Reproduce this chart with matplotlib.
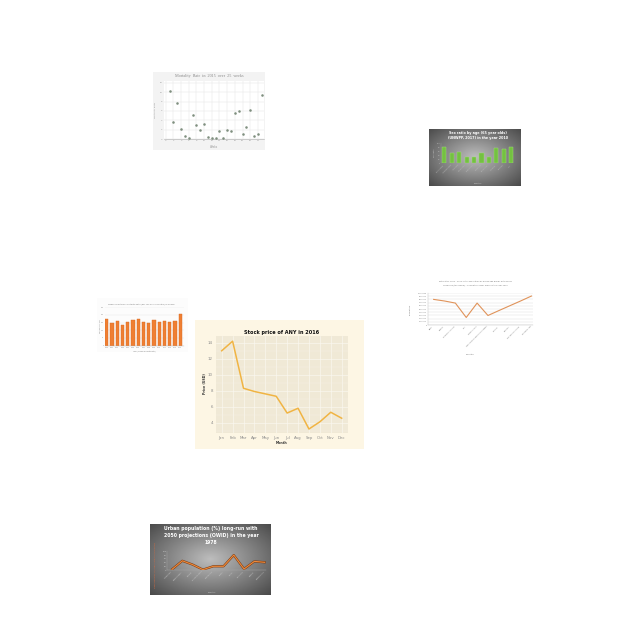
# Collage of six small charts on a white page

import numpy as np
import matplotlib.pyplot as plt

W = 640.0

# ---- data ----
weeks = list(range(1, 26))
mortality = [10.2, 3.55, 7.6, 2.1, 0.57, 0.2, 5.2, 3.1, 1.85, 3.3, 0.35, 0.3, 0.3,
             1.7, 0.2, 1.9, 1.7, 5.5, 6.0, 1.0, 2.6, 6.2, 0.7, 1.0, 9.5]

months = ["Jan", "Feb", "Mar", "Apr", "May", "Jun", "Jul", "Aug", "Sep", "Oct", "Nov", "Dec"]
price = [13.0, 14.2, 8.3, 7.9, 7.6, 7.3, 5.2, 5.8, 3.2, 4.1, 5.3, 4.55]

sex_countries = ["Kazakhstan", "Turkmenistan", "Tajikistan", "Uzbekistan", "Kyrgyzstan",
                 "Mongolia", "Azerbaijan", "Armenia", "Georgia", "Iran"]
sex_ratio = [82, 53, 57, 30, 33, 53, 33, 78, 73, 83]

pop_countries = ["Brazil", "Nigeria", "Northern America", "Iran", "Western Asia",
                 "Latin America and the Caribbean", "Ethiopia", "Pakistan",
                 "Sub-Saharan Africa", "Southern Asia"]
pop_under5 = [8.0e6, 7.5e6, 6.85e6, 2.35e6, 6.85e6, 2.97e6, 4.5e6, 6.0e6, 7.5e6, 9.05e6]

mmr_years = [str(y) for y in range(2000, 2015)]
mmr = [172, 150, 161, 136, 156, 170, 172, 156, 145, 165, 152, 161, 156, 163, 205]

urban_countries = ["Argentina", "Bangladesh", "Bolivia", "Burkina Faso", "Cambodia",
                   "Chad", "Chile", "Ethiopia", "Ghana", "Guatemala"]
urban_pct = [5, 50, 30, 3.5, 21, 21, 80, 7, 47, 42]


def box(x0, y0, x1, y1):
    # pixel box (top-left origin) -> figure fraction rect
    return [x0 / W, 1 - y1 / W, (x1 - x0) / W, (y1 - y0) / W]


def card(fig, x0, y0, x1, y1, color=None, dark=False):
    ax = fig.add_axes(box(x0, y0, x1, y1))
    ax.set_axis_off()
    if dark:
        yy, xx = np.mgrid[-1:1:200j, -1:1:300j]
        r = np.sqrt(xx ** 2 + yy ** 2)
        ax.imshow(-r, cmap="gray", vmin=-2.3, vmax=0.8, aspect="auto",
                  interpolation="bilinear", extent=[0, 1, 0, 1])
    else:
        ax.add_patch(plt.Rectangle((0, 0), 1, 1, color=color))
    ax.set_xlim(0, 1)
    ax.set_ylim(0, 1)
    return ax


def ftext(x, y, s, **kw):
    fig.text(x / W, 1 - y / W, s, ha="center", va="center", **kw)


fig = plt.figure(figsize=(6.4, 6.4), dpi=100)
fig.patch.set_facecolor("white")

# ---- 1. mortality scatter ----
card(fig, 153, 72, 265, 150, color="#f3f3f3")
ax = fig.add_axes(box(164, 81, 264, 139))
ax.set_facecolor("white")
ax.scatter(weeks, mortality, s=0.7, color="#7f8f7f", zorder=3)
ax.set_xlim(-0.45, 25.6)
ax.set_ylim(0, 12.4)
ax.set_xticks(range(0, 25, 2))
ax.set_yticks(range(0, 13, 2))
ax.grid(color="#e6e6e6", lw=0.35)
ax.tick_params(labelsize=1.6, length=0, pad=1, colors="#999999")
for s in ax.spines.values():
    s.set_visible(False)
ax.spines["bottom"].set_visible(True)
ax.spines["bottom"].set_color("#aaaaaa")
ax.spines["bottom"].set_linewidth(0.4)
ftext(209, 76, "Mortality  Rate  in  2015  over  25  weeks", fontsize=3,
      family="Liberation Serif", color="#888888")
ftext(155, 110, "Mortality Rate", fontsize=1.6, rotation=90, color="#999999")
ftext(214, 146.5, "Weeks", fontsize=1.8, color="#999999")

# ---- 2. stock price ----
card(fig, 195, 320, 364, 449, color="#fdf6e4")
ax = fig.add_axes(box(215.7, 336, 348, 433))
ax.set_facecolor("#f0e9d6")
ax.plot(range(len(months)), price, color="#f0b443", lw=1.1, zorder=3)
ax.set_xlim(-0.55, 11.58)
ax.set_ylim(2.7, 14.85)
ax.set_xticks(range(len(months)))
ax.set_xticklabels(months)
ax.set_yticks(range(4, 15, 2))
ax.set_yticks(np.arange(3, 15, 1), minor=True)
ax.grid(which="major", color="#fbf8f0", lw=0.45)
ax.grid(which="minor", color="#f8f4ea", lw=0.25)
ax.set_axisbelow(True)
ax.tick_params(which="both", labelsize=2.8, length=0, pad=2, colors="#8a8a8a")
for s in ax.spines.values():
    s.set_visible(False)
ftext(282, 332.5, "Stock price of ANY in 2016", fontsize=4.0, fontweight="heavy",
      family="DejaVu Sans", fontstretch="condensed", color="#111111")
ftext(204.5, 384, "Price (USD)", fontsize=2.6, fontweight="bold", rotation=90,
      family="DejaVu Sans", fontstretch="condensed", color="#333333")
ftext(282, 443.5, "Month", fontsize=2.6, fontweight="bold",
      family="DejaVu Sans", fontstretch="condensed", color="#333333")

# ---- 3. sex ratio bars (dark) ----
card(fig, 428.5, 129, 520, 186.5, dark=True)
ax = fig.add_axes(box(441.3, 143.3, 515, 163.3))
ax.patch.set_alpha(0)
ax.bar(range(len(sex_countries)), sex_ratio, width=0.55, color="#74c141",
       edgecolor="#a4e07a", lw=0.3)
ax.set_xlim(-0.41, 9.5)
ax.set_ylim(0, 100)
ax.set_yticks(range(0, 101, 20))
ax.set_xticks(range(len(sex_countries)))
ax.set_xticklabels(sex_countries, rotation=45, ha="right")
ax.tick_params(labelsize=1.4, length=0, pad=0.6, colors="#bbbbbb")
for s in ax.spines.values():
    s.set_visible(False)
ax.spines["left"].set_visible(True)
ax.spines["left"].set_color("#999999")
ax.spines["left"].set_linewidth(0.3)
ftext(477.7, 132.7, "Sex ratio by age (65 year olds)", fontsize=2.4,
      fontweight="bold", color="white")
ftext(477.7, 138.2, "(UNWPP, 2017) in the year 2010", fontsize=2.4,
      fontweight="bold", color="white")
ftext(434, 153, "Sex ratio", fontsize=1.4, rotation=90, color="#cccccc")
ftext(478, 183.3, "Country", fontsize=1.5, color="#cccccc")

# ---- 4. population line ----
ax = fig.add_axes(box(428, 293, 532.5, 325))
ax.plot(range(len(pop_countries)), pop_under5, color="#e0935a", lw=0.8, zorder=3)
ax.set_xlim(-0.52, 9.1)
ax.set_ylim(0, 1.0e7)
ax.set_yticks(np.arange(0, 1.0e7 + 1, 1.0e6))
ax.set_yticklabels([str(int(v)) for v in np.arange(0, 1.0e7 + 1, 1.0e6)])
ax.set_xticks(range(len(pop_countries)))
ax.set_xticklabels(pop_countries, rotation=45, ha="right")
ax.grid(axis="y", color="#dddddd", lw=0.3)
ax.tick_params(labelsize=1.3, length=0, pad=0.6, colors="#777777")
for s in ax.spines.values():
    s.set_visible(False)
ax.spines["left"].set_visible(True)
ax.spines["bottom"].set_visible(True)
for k in ["left", "bottom"]:
    ax.spines[k].set_color("#bbbbbb")
    ax.spines[k].set_linewidth(0.3)
ftext(475, 281.3, "Estimates, 1950 - 2020: Total population by broad age group, both sexes",
      fontsize=1.45, color="#777777")
ftext(475, 285.3, "combined (thousands) - Population under age 5 in the year 2000",
      fontsize=1.45, color="#777777")
ftext(410, 309, "Population", fontsize=1.5, rotation=90, color="#777777")
ftext(470, 354, "Country", fontsize=1.6, color="#777777")

# ---- 5. maternal mortality bars ----
card(fig, 97, 298, 188, 352, color="#fcfcfc")
ax = fig.add_axes(box(105, 307.3, 184.3, 345.5))
ax.patch.set_alpha(0)
ax.bar(range(len(mmr_years)), mmr, width=0.63, color="#ef7f33",
       edgecolor="#d96a22", lw=0.3)
ax.set_xlim(-0.32, 14.76)
ax.set_ylim(0, 250)
ax.set_yticks(range(0, 251, 50))
ax.set_xticks(range(len(mmr_years)))
ax.set_xticklabels(mmr_years)
ax.grid(axis="y", color="#e6e6e6", lw=0.3)
ax.set_axisbelow(True)
ax.tick_params(labelsize=1.2, length=0, pad=0.8, colors="#888888")
for s in ax.spines.values():
    s.set_visible(False)
ax.spines["bottom"].set_visible(True)
ax.spines["bottom"].set_color("#bbbbbb")
ax.spines["bottom"].set_linewidth(0.3)
ftext(141, 304.3, "Modelled Maternal Mortality Ratio (per 100,000 live births) in Guinea",
      fontsize=1.35, color="#777777")
ftext(100.5, 326, "MMR per 100,000", fontsize=1.2, rotation=90, color="#888888")
ftext(144, 351.5, "Year (modelled estimate)", fontsize=1.3, color="#888888")

# ---- 6. urban population (dark) ----
card(fig, 149.7, 523.7, 270.3, 595.3, dark=True)
ax = fig.add_axes(box(167.3, 551.3, 266.3, 570.3))
ax.patch.set_alpha(0)
xs = np.arange(len(urban_countries))
ax.plot(xs, urban_pct, color="#7a3d16", lw=1.6, zorder=2)
ax.plot(xs, urban_pct, color="#f08a3a", lw=0.8, zorder=3)
ax.set_xlim(-0.46, 9.16)
ax.set_ylim(0, 100)
ax.set_yticks(range(0, 101, 20))
ax.set_xticks(xs)
ax.set_xticklabels(urban_countries, rotation=45, ha="right")
ax.tick_params(labelsize=1.5, length=0, pad=0.6, colors="#cccccc")
for s in ax.spines.values():
    s.set_visible(False)
for k in ["left", "bottom"]:
    ax.spines[k].set_visible(True)
    ax.spines[k].set_color("#aaaaaa")
    ax.spines[k].set_linewidth(0.3)
ftext(211, 528.3, "Urban population (%) long-run with", fontsize=3.3,
      fontweight="bold", color="white")
ftext(211, 535, "2050 projections (OWID) in the year", fontsize=3.3,
      fontweight="bold", color="white")
ftext(211, 542, "1978", fontsize=3.3, fontweight="bold", color="white")
ftext(155.5, 565, "Urban population (%) long-run with 2050 projections", fontsize=1.3,
      rotation=90, color="#e06a3a")
ftext(212, 592, "Country", fontsize=1.5, color="#cccccc")

fig.savefig("out.png", dpi=100)
